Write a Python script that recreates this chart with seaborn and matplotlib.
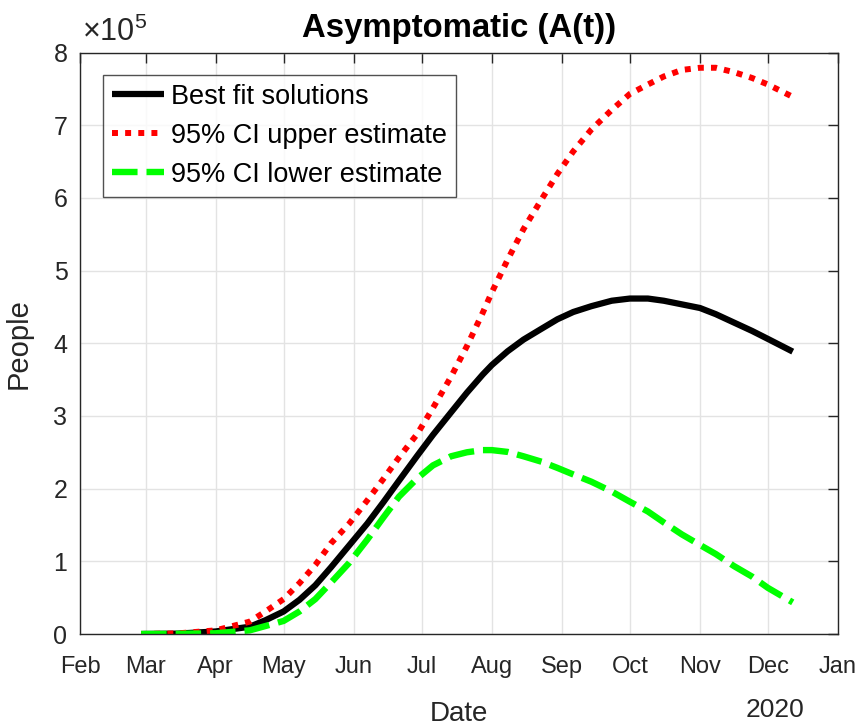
import numpy as np
import pandas as pd
import matplotlib
matplotlib.use("Agg")
import matplotlib.pyplot as plt
import matplotlib.dates as mdates
from matplotlib.ticker import FuncFormatter
import seaborn as sns

# Simulated asymptomatic population A(t), in units of 10^5 people
dates = ["2020-02-28", "2020-03-15", "2020-04-01", "2020-04-16", "2020-04-23",
         "2020-05-01", "2020-05-08", "2020-05-15", "2020-05-22", "2020-05-30",
         "2020-06-07", "2020-06-14", "2020-06-21", "2020-06-29", "2020-07-06",
         "2020-07-14", "2020-07-21", "2020-07-28", "2020-08-01", "2020-08-08",
         "2020-08-15", "2020-08-23", "2020-08-30", "2020-09-06", "2020-09-14",
         "2020-09-23", "2020-10-01", "2020-10-09", "2020-10-16", "2020-10-24",
         "2020-11-01", "2020-11-08", "2020-11-16", "2020-11-24", "2020-12-01",
         "2020-12-12"]
best_fit = [0.0, 0.005, 0.035, 0.10, 0.19,
            0.31, 0.47, 0.67, 0.92, 1.22,
            1.52, 1.81, 2.11, 2.45, 2.74,
            3.05, 3.32, 3.57, 3.70, 3.89,
            4.05, 4.20, 4.33, 4.43, 4.51,
            4.585, 4.615, 4.615, 4.585, 4.535,
            4.485, 4.40, 4.285, 4.17, 4.06,
            3.885]
ci_upper = [0.0, 0.008, 0.05, 0.17, 0.31,
            0.48, 0.70, 0.95, 1.25, 1.52,
            1.84, 2.13, 2.43, 2.75, 3.11,
            3.54, 3.96, 4.42, 4.70, 5.15,
            5.57, 5.98, 6.33, 6.64, 6.94,
            7.21, 7.43, 7.56, 7.67, 7.76,
            7.79, 7.79, 7.73, 7.65, 7.56,
            7.39]
ci_lower = [0.0, 0.002, 0.01, 0.05, 0.11,
            0.18, 0.31, 0.48, 0.71, 0.98,
            1.30, 1.60, 1.89, 2.14, 2.32,
            2.445, 2.50, 2.53, 2.53, 2.505,
            2.445, 2.37, 2.285, 2.195, 2.095,
            1.96, 1.82, 1.685, 1.535, 1.37,
            1.225, 1.10, 0.935, 0.79, 0.635,
            0.435]
series_labels = ["Best fit solutions", "95% CI upper estimate", "95% CI lower estimate"]
y_ticks = [0, 1, 2, 3, 4, 5, 6, 7, 8]
scale = 1e5

df = pd.DataFrame({
    "date": pd.to_datetime(dates),
    "best": np.array(best_fit) * scale,
    "upper": np.array(ci_upper) * scale,
    "lower": np.array(ci_lower) * scale,
})

sns.set_theme(style="white")
plt.rcParams["font.family"] = ["Liberation Sans", "DejaVu Sans"]
plt.rcParams["mathtext.fontset"] = "custom"
plt.rcParams["mathtext.rm"] = "Liberation Sans"
plt.rcParams["mathtext.it"] = "Liberation Sans:italic"

dark = "#262626"
fig = plt.figure(figsize=(8.64, 7.26), dpi=100)
ax = fig.add_axes([0.09259, 0.12672, 0.87731, 0.80096])

sns.lineplot(data=df, x="date", y="best", color="black", lw=4.5,
             label=series_labels[0], ax=ax, legend=False)
sns.lineplot(data=df, x="date", y="upper", color=(1, 0, 0), lw=4.3,
             label=series_labels[1], ax=ax, legend=False)
sns.lineplot(data=df, x="date", y="lower", color=(0, 1, 0), lw=4.6,
             label=series_labels[2], ax=ax, legend=False)
for ln in ax.lines:
    ln.set_solid_joinstyle("round")
    ln.set_dash_joinstyle("round")
ax.lines[0].set_solid_capstyle("butt")
ax.lines[1].set_dashes((1.0, 1.2))
ax.lines[2].set_dashes((4.0, 1.4))

# Axes limits and ticks
ax.set_xlim(pd.Timestamp("2020-02-01"), pd.Timestamp("2021-01-01"))
ax.xaxis.set_major_locator(mdates.MonthLocator())
ax.xaxis.set_major_formatter(mdates.DateFormatter("%b"))
ax.set_ylim(0, 8 * scale)
ax.set_yticks([t * scale for t in y_ticks])
ax.yaxis.set_major_formatter(FuncFormatter(lambda v, p: f"{v / scale:g}"))

ax.tick_params(direction="in", top=True, right=True, length=7, width=1,
               colors=dark)
ax.tick_params(axis="x", labelsize=17, pad=16)
ax.tick_params(axis="y", labelsize=18, pad=9)
ax.grid(True, color="#e3e3e3", lw=1)
for s in ax.spines.values():
    s.set_visible(True)
    s.set_color(dark)
    s.set_linewidth(1)

ax.set_title("Asymptomatic (A(t))", fontsize=23.7, fontweight="bold",
             color="black", pad=11)
ax.set_xlabel("Date", fontsize=20, color=dark)
ax.xaxis.set_label_coords(0.5, -0.116)
ax.set_ylabel("People", fontsize=21, color=dark)
ax.yaxis.set_label_coords(-0.062, 0.5)

ax.text(0.003, 1.008, r"$\times10^{5}$", transform=ax.transAxes,
        fontsize=22, color=dark, ha="left", va="bottom")
ax.text(0.917, -0.131, "2020", transform=ax.transAxes, fontsize=19,
        color=dark, ha="center", va="center")

leg = ax.legend(loc="upper left", bbox_to_anchor=(0.0303, 0.961),
                borderaxespad=0, fontsize=19.5, frameon=True, fancybox=False,
                handlelength=1.95, handletextpad=0.25, labelspacing=0.48,
                borderpad=0.32)
leg.get_frame().set_edgecolor(dark)
leg.get_frame().set_linewidth(1)
for t in leg.get_texts():
    t.set_color("black")

fig.savefig("out.png", dpi=100)
